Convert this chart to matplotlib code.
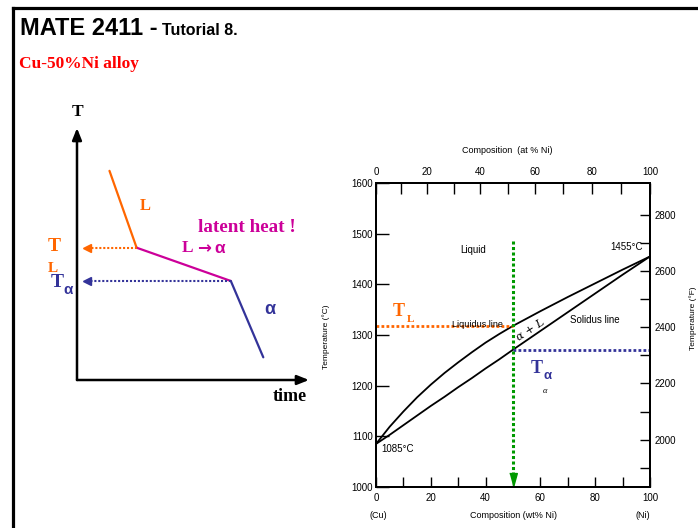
import numpy as np
import matplotlib.pyplot as plt

plt.rcParams['font.family'] = ['Liberation Sans', 'DejaVu Sans']

# cooling curve (schematic units, time / T from 0 to 100)
cool_time = [14, 25.7, 66.3, 80.3]
cool_temp = [83, 52.5, 39.3, 9]
seg_colors = ['#FF6600', '#CC0099', '#333399']

# Cu-Ni phase diagram (wt% Ni, degC)
wt_ni = [0, 5, 10, 15, 20, 25, 30, 35, 40, 45, 50, 60, 70, 80, 90, 100]
liquidus = [1085, 1119, 1149, 1177, 1202, 1225, 1246, 1266, 1285, 1302, 1318,
            1347, 1375, 1402, 1429, 1455]
solidus = [1085, 1103, 1122, 1141, 1160, 1178, 1197, 1215, 1234, 1252, 1271,
           1308, 1345, 1382, 1419, 1455]
alloy_wt = 50
T_L = 1318
T_a = 1271

at_ticks = [0, 10, 20, 30, 40, 50, 60, 70, 80, 90, 100]
wt_ticks = [0, 10, 20, 30, 40, 50, 60, 70, 80, 90, 100]
c_ticks = [1000, 1100, 1200, 1300, 1400, 1500, 1600]
f_ticks = [1900, 2000, 2100, 2200, 2300, 2400, 2500, 2600, 2700, 2800]

M_NI, M_CU = 58.69, 63.55

ORANGE = '#FF6600'
MAGENTA = '#CC0099'
BLUE = '#333399'
GREEN = '#009900'
SERIF = ['Liberation Serif', 'DejaVu Serif']


def at_to_wt(a):
    a = np.asarray(a, dtype=float)
    return 100 * a * M_NI / (a * M_NI + (100 - a) * M_CU)


def c_to_f(c):
    return np.asarray(c) * 9 / 5 + 32


fig = plt.figure(figsize=(6.98, 5.28), dpi=100)

# slide background (pixel coordinates)
bg = fig.add_axes([0, 0, 1, 1])
bg.set_xlim(0, 698)
bg.set_ylim(528, 0)
bg.axis('off')
bg.plot([13, 13], [528, 8], color='k', lw=2.3, solid_capstyle='projecting')
bg.plot([13, 698], [8, 8], color='k', lw=2.3, solid_capstyle='projecting')
bg.text(20, 35, 'MATE 2411 -', fontsize=17, weight='bold', va='baseline')
bg.text(162, 35, 'Tutorial 8.', fontsize=11.5, weight='bold', va='baseline')
bg.text(19, 68, 'Cu-50%Ni alloy', fontsize=12.5, weight='bold', color='#FF0000',
        family=SERIF, va='baseline')
bg.text(326, 337, 'Temperature (°C)', rotation=90, fontsize=6, ha='center', va='center')
bg.text(693, 318, 'Temperature (°F)', rotation=90, fontsize=6, ha='center', va='center')

# ---- cooling curve ----
cax = fig.add_axes([77 / 698, 1 - 380 / 528, 232 / 698, 252 / 528])
cax.set_xlim(0, 100)
cax.set_ylim(0, 100)
cax.axis('off')
cax.patch.set_alpha(0)
arrow = dict(arrowstyle='-|>,head_length=0.5,head_width=0.2', color='k', lw=1.8,
             shrinkA=0, shrinkB=0, mutation_scale=14)
cax.annotate('', xy=(0, 1), xytext=(0, 0), xycoords='axes fraction', arrowprops=arrow)
cax.annotate('', xy=(1, 0), xytext=(0, 0), xycoords='axes fraction', arrowprops=arrow)

for i in range(3):
    cax.plot(cool_time[i:i + 2], cool_temp[i:i + 2], color=seg_colors[i], lw=1.6,
             solid_capstyle='round')

for lvl, t, col in [(cool_temp[1], cool_time[1], ORANGE), (cool_temp[2], cool_time[2], BLUE)]:
    cax.plot([t, 5], [lvl, lvl], color=col, lw=1.5, ls=(0, (1, 0.9)))
    cax.plot(4.2, lvl, marker='<', color=col, ms=5.5, clip_on=False)

cax.text(0, 106.5, 'T', fontsize=12.5, weight='bold', family=SERIF, ha='center', va='center')
cax.text(91.5, -6.7, 'time', fontsize=13, weight='bold', family=SERIF, ha='center', va='center')
cax.text(29.3, 69, 'L', fontsize=12, weight='bold', family=SERIF, color=ORANGE,
         ha='center', va='center')
cax.text(73.3, 60.7, 'latent heat !', fontsize=13.8, weight='bold', family=SERIF,
         color=MAGENTA, ha='center', va='center')
cax.text(47.5, 52.4, 'L', fontsize=12.5, weight='bold', family=SERIF, color=MAGENTA,
         ha='center', va='center')
cax.text(54.8, 52.4, '→', fontsize=12, weight='bold', family=['DejaVu Sans'],
         color=MAGENTA, ha='center', va='center')
cax.text(61.5, 52.0, 'α', fontsize=12.5, weight='bold', color=MAGENTA,
         ha='center', va='center')
cax.text(83.2, 27.8, 'α', fontsize=13, weight='bold', color=BLUE, ha='center', va='center')
cax.text(-9.9, 53, 'T', fontsize=14, weight='bold', family=SERIF, color=ORANGE,
         ha='center', va='center')
cax.text(-10.3, 44.4, 'L', fontsize=11, weight='bold', family=SERIF, color=ORANGE,
         ha='center', va='center')
cax.text(-8.6, 38.8, 'T', fontsize=14, weight='bold', family=SERIF, color=BLUE,
         ha='center', va='center')
cax.text(-6.0, 35.6, 'α', fontsize=11, weight='bold', color=BLUE, ha='left', va='center')

# ---- phase diagram ----
ax = fig.add_axes([376 / 698, 1 - 487 / 528, 274 / 698, 304 / 528])
ax.plot(wt_ni, liquidus, color='k', lw=1.3)
ax.plot(wt_ni, solidus, color='k', lw=1.3)
ax.set_xlim(0, 100)
ax.set_ylim(1000, 1600)
ax.set_xticks(wt_ticks)
ax.set_xticklabels([str(v) if v % 20 == 0 else '' for v in wt_ticks])
ax.set_yticks(c_ticks)
ax.tick_params(axis='x', direction='in', length=7, width=1, labelsize=7, pad=4)
ax.tick_params(axis='y', direction='in', length=9.5, width=1, labelsize=7, pad=2)
for s in ax.spines.values():
    s.set_linewidth(1.3)

dots = (0, (1, 0.8))
ax.plot([0, alloy_wt], [T_L, T_L], color=ORANGE, lw=2, ls=dots)
ax.plot([alloy_wt, 100], [T_a, T_a], color=BLUE, lw=2, ls=dots)
ax.plot([alloy_wt, alloy_wt], [1485, 1022], color=GREEN, lw=2.2, ls=dots)
ax.plot(alloy_wt, 1014, marker=[(-0.55, 1), (0.55, 1), (0, -1)], color=GREEN, ms=10,
        clip_on=False)

ax.text(35.4, 1468, 'Liquid', fontsize=7, ha='center', va='center')
ax.text(97.5, 1474, '1455°C', fontsize=7, ha='right', va='center')
ax.text(37.2, 1321, 'Liquidus line', fontsize=6.5, ha='center', va='center')
ax.text(80, 1330, 'Solidus line', fontsize=7, ha='center', va='center')
ax.text(2, 1075, '1085°C', fontsize=7, ha='left', va='center')
ax.text(56.5, 1309, 'α + L', fontsize=8, style='italic', family=['DejaVu Serif'],
        rotation=33, ha='center', va='center', zorder=5)
ax.text(8.2, 1347, 'T', fontsize=13, weight='bold', family=SERIF, color=ORANGE,
        ha='center', va='center')
ax.text(12.5, 1330, 'L', fontsize=8, weight='bold', family=SERIF, color=ORANGE,
        ha='center', va='center')
ax.text(58.6, 1233, 'T', fontsize=13, weight='bold', family=SERIF, color=BLUE,
        ha='center', va='center')
ax.text(62.5, 1220, 'α', fontsize=9.5, weight='bold', color=BLUE, ha='center', va='center')
ax.text(61.5, 1190, 'α', fontsize=6, style='italic', family=SERIF, ha='center', va='center')

ax.text(0.478, 1.108, 'Composition  (at % Ni)', fontsize=6.5, ha='center', va='center',
        transform=ax.transAxes)
ax.text(0.5, -0.095, 'Composition (wt% Ni)', fontsize=6.5, ha='center', va='center',
        transform=ax.transAxes)
ax.text(0.007, -0.095, '(Cu)', fontsize=6.5, ha='center', va='center', transform=ax.transAxes)
ax.text(0.975, -0.095, '(Ni)', fontsize=6.5, ha='center', va='center', transform=ax.transAxes)

top = ax.twiny()
top.set_xlim(0, 100)
top.set_xticks(at_to_wt(at_ticks))
top.set_xticklabels([str(v) if v % 20 == 0 else '' for v in at_ticks])
top.tick_params(axis='x', direction='in', length=8, width=1, labelsize=7, pad=4)

right = ax.twinx()
right.set_ylim(c_to_f(1000), c_to_f(1600))
right.set_yticks(f_ticks)
right.set_yticklabels([str(v) if v % 200 == 0 else '' for v in f_ticks])
right.tick_params(axis='y', direction='in', length=7, width=1, labelsize=7, pad=3)
for a in (top, right):
    for s in a.spines.values():
        s.set_linewidth(1.3)

fig.savefig('out.png', dpi=100)
